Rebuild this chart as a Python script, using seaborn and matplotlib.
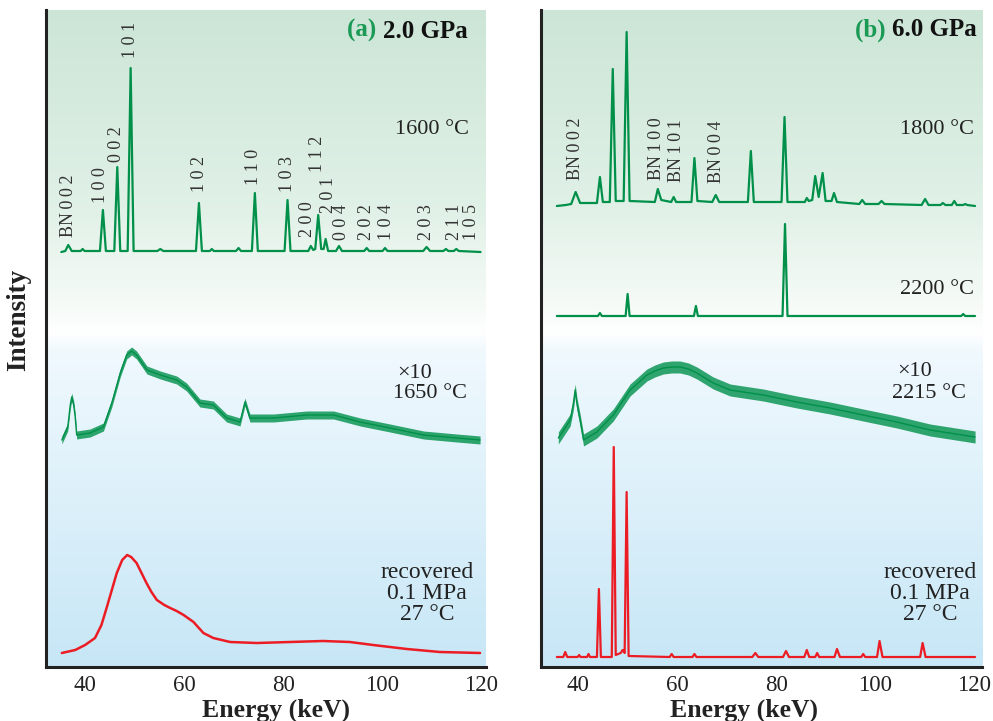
import numpy as np
import matplotlib
matplotlib.use("Agg")
import matplotlib.pyplot as plt
import seaborn as sns

sns.set_theme(style="white")
plt.rcParams['font.family'] = ['Liberation Serif', 'DejaVu Serif']
plt.rcParams['mathtext.fontset'] = 'stix'

GREEN = '#00904a'
RED = '#ec1c24'
TS = '\u2009'

# ---------------- Panel (a) 2.0 GPa ----------------
a1600_x = [35.2, 36.0, 36.6, 37.3, 39.1, 39.5, 39.9,
           43.0, 43.6, 44.2, 45.9, 46.5, 47.1, 48.6, 49.2, 49.8,
           54.6, 55.2, 55.8, 62.4, 63.0, 63.6, 65.2, 65.6, 66.0,
           70.5, 71.0, 71.5, 73.7, 74.3, 74.9, 80.3, 80.9, 81.5,
           85.1, 85.6, 86.1, 86.5, 87.1, 87.7, 88.2, 88.6, 89.1,
           90.7, 91.3, 91.9, 96.4, 96.9, 97.4, 100.1, 100.6, 101.1,
           108.3, 109.0, 109.7, 112.4, 112.9, 113.4, 114.5, 115.0, 115.5, 119.9]
a1600_y = [415, 416, 422, 416, 416, 418, 416,
           416, 457, 416, 416, 500, 416, 416, 599, 416,
           416, 418, 416, 416, 464, 416, 416, 418, 416,
           416, 419, 416, 416, 474, 416, 416, 467, 416,
           416, 421, 417, 418, 452, 418, 418, 428, 416,
           416, 421, 416, 416, 419, 416, 416, 419, 416,
           416, 420, 416, 416, 418, 416, 416, 418, 416, 415]

a1650_x = [35.3, 36.5, 37.0, 37.3, 37.7, 38.0, 38.3, 41.0, 43.7, 45.4, 47.1, 48.4, 49.4, 50.4,
           52.5, 55.2, 58.5, 60.5, 63.2, 65.9, 68.6, 71.3, 72.3, 73.3, 78.1, 84.8,
           90.2, 95.6, 101.6, 108.4, 115.1, 119.8]
a1650_y = [227, 240, 262, 270, 262, 250, 232, 234, 240, 264, 294, 312, 316, 312,
           297, 292, 287, 280, 264, 262, 249, 245, 265, 249, 249, 252,
           252, 245, 239, 232, 229, 227]

a_rec_x = [35.3, 38.0, 40.0, 42.0, 43.3, 44.4, 45.4, 46.4, 47.5, 48.5, 49.3, 50.4, 51.4,
           52.4, 53.4, 54.5, 56.0, 57.2, 58.5, 59.9, 61.9, 63.9, 65.9, 69.3, 74.7,
           81.4, 88.1, 93.5, 98.2, 105.0, 111.7, 119.8]
a_rec_y = [14, 17, 22, 29, 42, 60, 77, 94, 107, 112, 110, 104, 94,
           84, 75, 67, 62, 59, 56, 52, 45, 34, 29, 25, 24,
           25, 26, 25, 22, 18, 15, 14]

a_peak_labels = ['BN' + TS + '0' + TS + '0' + TS + '2', '1 0 0', '0 0 2', '1 0 1', '1 0 2', '1 1 0',
                 '1 0 3', '2 0 0', '1 1 2', '2 0 1', '0 0 4', '2 0 2', '1 0 4',
                 '2 0 3', '2 1 1', '1 0 5']
a_peak_label_x = [36.6, 43.2, 46.4, 49.2, 63.1, 74.0, 80.9, 85.0, 86.9, 89.2,
                  91.9, 96.9, 100.9, 109.0, 114.7, 118.1]
a_peak_label_y = [430, 464, 505, 609, 475, 482, 475, 430, 495, 454,
                  427, 427, 427, 427, 427, 427]

# ---------------- Panel (b) 6.0 GPa ----------------
b1800_x = [35.7, 37.5, 38.6, 39.5, 40.4, 43.8, 44.4, 45.0, 46.4, 47.0, 47.6, 49.2, 49.8, 50.4,
           55.5, 56.1, 56.8, 58.8, 59.3, 59.8, 62.9, 63.5, 64.1, 67.1, 67.8, 68.5,
           74.3, 74.9, 75.5, 81.1, 81.7, 82.3, 85.8, 86.2, 86.6, 87.3, 87.9, 88.6,
           89.4, 90.0, 91.2, 91.7, 92.3, 96.8, 97.4, 98.0, 100.7, 101.3, 101.9,
           109.4, 110.1, 110.8, 113.2, 113.7, 114.2, 115.5, 116.0, 116.5,
           117.8, 118.2, 118.6, 120.2]
b1800_y = [461, 462, 463, 475, 464, 464, 490, 465, 465, 598, 466, 466, 635, 466,
           465, 478, 467, 465, 470, 465, 465, 509, 466, 465, 472, 465,
           465, 516, 465, 465, 550, 465, 465, 469, 466, 467, 491, 470,
           494, 466, 466, 474, 465, 463, 467, 463, 463, 466, 463,
           462, 468, 462, 462, 464, 462, 462, 466, 462,
           462, 463, 462, 461]

b2200_x = [35.7, 44.0, 44.4, 44.8, 49.6, 50.0, 50.4, 63.4, 63.8, 64.2,
           81.3, 81.8, 82.3, 117.4, 117.8, 118.2, 120.2]
b2200_y = [351, 351, 354, 351, 351, 373, 351, 351, 361, 351,
           351, 443, 351, 351, 353, 351, 351]

b2215_x = [36.0, 38.4, 39.0, 39.4, 39.8, 40.4, 41.1, 43.8, 47.1, 50.5, 53.9, 55.5, 57.2, 58.9,
           60.6, 62.3, 64.0, 67.3, 70.7, 77.4, 84.2, 90.9, 97.6, 104.4, 111.1, 120.2]
b2215_y = [229, 247, 262, 277, 262, 247, 227, 235, 252, 277, 292, 296, 299, 300,
           300, 298, 294, 284, 277, 272, 265, 259, 252, 245, 237, 230]

b_rec_x = [35.7, 37.0, 37.4, 37.8, 39.9, 40.2, 40.5, 41.8, 42.1, 42.4, 43.8, 44.2, 44.6,
           46.8, 47.2, 47.6, 48.6, 49.0, 49.4, 49.8, 50.2, 58.5, 58.9, 59.3,
           63.1, 63.5, 63.9, 75.2, 75.8, 76.4, 81.4, 82.0, 82.6, 85.7, 86.2, 86.7,
           87.9, 88.3, 88.7, 91.8, 92.3, 92.9, 97.2, 97.6, 98.0, 100.4, 100.9, 101.5,
           109.1, 109.6, 110.2, 120.2]
b_rec_y = [10, 10, 15, 10, 10, 12, 10, 10, 13, 10, 10, 78, 10,
           10, 220, 12, 14, 17, 14, 175, 11, 10, 13, 10,
           10, 13, 10, 10, 14, 10, 10, 16, 10, 10, 17, 10,
           10, 14, 10, 10, 18, 10, 10, 13, 10, 10, 26, 10,
           10, 24, 10, 10]

b_peak_labels = ['BN' + TS + '0' + TS + '0' + TS + '2', 'BN' + TS + '1' + TS + '0' + TS + '0',
                 'BN' + TS + '1' + TS + '0' + TS + '1', 'BN' + TS + '0' + TS + '0' + TS + '4']
b_peak_label_x = [39.4, 55.9, 59.9, 67.9]
b_peak_label_y = [487, 487, 485, 484]

x_ticks = [40, 60, 80, 100, 120]

# ---------------- figure ----------------
W, H = 993, 721
fig = plt.figure(figsize=(W / 100, H / 100), dpi=100)
fig.patch.set_facecolor('white')
axA = fig.add_axes([46 / W, (H - 667) / H, 440 / W, 657 / H])
axB = fig.add_axes([541 / W, (H - 667) / H, 441 / W, 657 / H])

# background gradient (top -> bottom)
stops = [0.0, 0.3, 0.46, 0.49, 0.52, 1.0]
cols = np.array([[0.80, 0.90, 0.84],
                 [0.88, 0.945, 0.905],
                 [0.97, 0.985, 0.975],
                 [1.00, 1.00, 1.00],
                 [0.94, 0.975, 0.995],
                 [0.78, 0.905, 0.965]])
t = np.linspace(0, 1, 400)
grad = np.stack([np.interp(t, stops, cols[:, k]) for k in range(3)], axis=1)[:, None, :]

def style_axis(ax, xlim):
    ax.set_xlim(*xlim)
    ax.set_ylim(0, 657)
    ax.imshow(grad, extent=[xlim[0], xlim[1], 0, 657], aspect='auto', zorder=0,
              interpolation='bilinear')
    for s in ['top', 'right']:
        ax.spines[s].set_visible(False)
    for s in ['left', 'bottom']:
        ax.spines[s].set_color('#222222')
        ax.spines[s].set_linewidth(2.2)
    ax.set_yticks([])
    ax.set_xticks(x_ticks)
    ax.tick_params(axis='x', direction='in', length=5, width=1.2, color='#222222',
                   labelsize=16.5, pad=6, labelcolor='#222222')
    ax.set_ylabel('')
    ax.set_xlabel('')
    ax.grid(False)

def noisy(ax, x, y, d):
    ya = np.array(y, dtype=float)
    ax.fill_between(x, ya - d, ya + d, color=GREEN, alpha=0.8, lw=0, zorder=2)
    sns.lineplot(x=x, y=y, ax=ax, color=GREEN, lw=1.0, sort=False, estimator=None, zorder=3)

def label_block(ax, xr, y, lines, ha):
    for i, s in enumerate(lines):
        ax.text(xr, y - i * 21.5, s, fontsize=17, ha=ha, va='center', color='#222222', zorder=5)

def title(ax, xr, y, letter, rest):
    tt = ax.text(xr, y, rest, fontsize=18, fontweight='bold', ha='right', va='center',
                 color='#111111', zorder=5)
    ax.annotate(letter + ' ', xy=(0, 0), xycoords=tt, ha='right', va='bottom',
                fontsize=18, fontweight='bold', color='#1a9a55', zorder=5)

# panel a
style_axis(axA, (32.1, 121.0))
sns.lineplot(x=a1600_x, y=a1600_y, ax=axA, color=GREEN, lw=1.6, sort=False, estimator=None, zorder=3)
noisy(axA, a1650_x, a1650_y, 4)
sns.lineplot(x=a_rec_x, y=a_rec_y, ax=axA, color=RED, lw=1.8, sort=False, estimator=None, zorder=3)
for s, xx, yy in zip(a_peak_labels, a_peak_label_x, a_peak_label_y):
    axA.text(xx, yy, s, rotation=90, fontsize=13, ha='center', va='bottom', color='#333333', zorder=5)
axA.text(117.5, 537, '1600 °C', fontsize=16, ha='right', va='center', color='#222222', zorder=5)
axA.text(103.0, 294, '×10', fontsize=16, ha='left', va='center', color='#222222', zorder=5)
axA.text(117.2, 273, '1650 °C', fontsize=16, ha='right', va='center', color='#222222', zorder=5)
label_block(axA, 109.1, 95, ['recovered', '0.1 MPa', '27 °C'], 'center')
title(axA, 117.3, 636, '(a)', '2.0 GPa')

# panel b
style_axis(axB, (32.5, 121.6))
sns.lineplot(x=b1800_x, y=b1800_y, ax=axB, color=GREEN, lw=1.6, sort=False, estimator=None, zorder=3)
sns.lineplot(x=b2200_x, y=b2200_y, ax=axB, color=GREEN, lw=1.6, sort=False, estimator=None, zorder=3)
noisy(axB, b2215_x, b2215_y, 6)
sns.lineplot(x=b_rec_x, y=b_rec_y, ax=axB, color=RED, lw=1.6, sort=False, estimator=None, zorder=3)
for s, xx, yy in zip(b_peak_labels, b_peak_label_x, b_peak_label_y):
    axB.text(xx, yy, s, rotation=90, fontsize=13, ha='center', va='bottom', color='#333333', zorder=5)
axB.text(120.0, 537, '1800 °C', fontsize=16, ha='right', va='center', color='#222222', zorder=5)
axB.text(120.0, 377, '2200 °C', fontsize=16, ha='right', va='center', color='#222222', zorder=5)
axB.text(104.4, 295, '×10', fontsize=16, ha='left', va='center', color='#222222', zorder=5)
axB.text(118.3, 273, '2215 °C', fontsize=16, ha='right', va='center', color='#222222', zorder=5)
label_block(axB, 111.1, 95, ['recovered', '0.1 MPa', '27 °C'], 'center')
title(axB, 120.5, 637, '(b)', '6.0 GPa')

fig.text(19 / W, (H - 320) / H, 'Intensity', rotation=90, fontsize=19.5, fontweight='bold',
         ha='center', va='center', color='#222222')
for cx in (276, 744):
    fig.text(cx / W, (H - 717) / H, 'Energy (keV)', fontsize=18.5, fontweight='bold',
             ha='center', va='baseline', color='#222222')

fig.savefig('out.png', dpi=100)
